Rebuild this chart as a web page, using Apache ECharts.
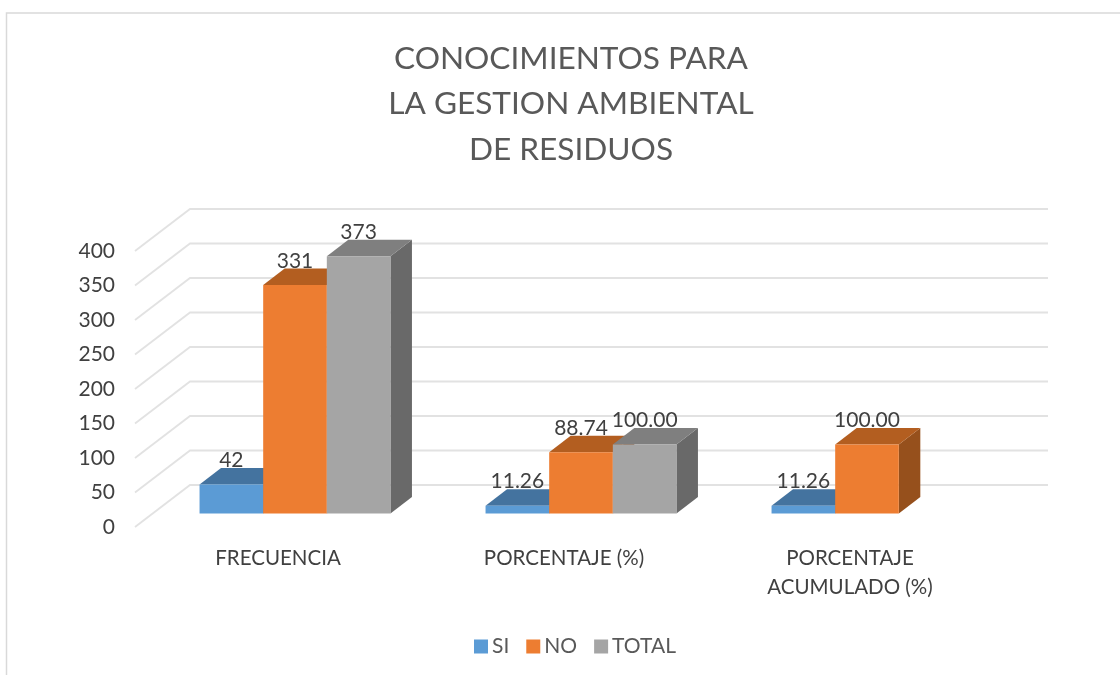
<!DOCTYPE html>
<html><head><meta charset="utf-8">
<style>html,body{margin:0;padding:0;background:#fff}#c{width:1120px;height:675px}</style>
<script src="https://cdn.jsdelivr.net/npm/echarts@6/dist/echarts.min.js"></script>
</head><body><div id="c"></div>
<script>
const categories = ['FRECUENCIA', 'PORCENTAJE (%)', 'PORCENTAJE\nACUMULADO (%)'];
const yTicks = [0, 50, 100, 150, 200, 250, 300, 350, 400];
const si = [42, 11.26, 11.26];
const no = [331, 88.74, 100.00];
const total = [373, 100.00, null];
const names = ['SI', 'NO', 'TOTAL'];
const titleText = 'CONOCIMIENTOS PARA\nLA GESTION AMBIENTAL\nDE RESIDUOS';

const FONT = 'Lato, "Open Sans", sans-serif';
const faces = [
  {front:'#5B9BD5', top:'#44739F', side:'#3E6C97'},
  {front:'#ED7D31', top:'#B35E20', side:'#96501C'},
  {front:'#A5A5A5', top:'#7F7F7F', side:'#696969'}
];
// oblique projection of the chart floor
const WALL = [55, -42], BAR_SHIFT = [17, -13.5], BAR_DEPTH = [21.5, -16.5], BAR_SLOT = 0.2225;

function wallItem(params, api) {
  const p = api.coord([0, api.value(1)]);
  const x0 = params.coordSys.x, x1 = x0 + params.coordSys.width;
  return {type:'polyline', silent:true, shape:{points:[
    [x0, p[1]], [x0 + WALL[0], p[1] + WALL[1]], [x1 + WALL[0], p[1] + WALL[1]]
  ]}, style:{stroke:'#E2E2E2', lineWidth:1.8, fill:null}};
}

function barRenderer(k) {
  return function (params, api) {
    const v = api.value(1);
    if (isNaN(v)) return null;
    const cat = api.value(0);
    const c = api.coord([cat, 0]), t = api.coord([cat, v]);
    const w = api.size([1, 0])[0] * BAR_SLOT;
    const cx = c[0] + BAR_SHIFT[0] + (k - 1) * w;
    const xl = cx - w / 2, xr = cx + w / 2;
    const yb = c[1] + BAR_SHIFT[1], yt = t[1] + BAR_SHIFT[1];
    const dx = BAR_DEPTH[0], dy = BAR_DEPTH[1];
    const f = faces[k];
    const label = cat === 0 ? String(v) : v.toFixed(2);
    return {type:'group', children:[
      {type:'polygon', shape:{points:[[xr,yb],[xr+dx,yb+dy],[xr+dx,yt+dy],[xr,yt]]}, style:{fill:f.side}},
      {type:'polygon', shape:{points:[[xl,yt],[xl+dx,yt+dy],[xr+dx,yt+dy],[xr,yt]]}, style:{fill:f.top}},
      {type:'rect', shape:{x:xl, y:yt, width:w, height:yb-yt}, style:{fill:f.front}},
      {type:'text', z2:100, style:{x:cx, y:yt-24, text:label, align:'center', verticalAlign:'middle',
        fill:'#404040', font:'21px '+FONT}}
    ]};
  };
}

function barSeries(k, values) {
  return {
    name:names[k], type:'custom', clip:false, z:3,
    itemStyle:{color:faces[k].front}, color:faces[k].front,
    encode:{x:0, y:1},
    data:values.map((v, i) => [i, v === null ? NaN : v]),
    renderItem:barRenderer(k)
  };
}

const chart = echarts.init(document.getElementById('c'), null, {renderer:'canvas'});
chart.setOption({
  animation:false,
  backgroundColor:'#fff',
  title:{text:titleText, left:566, top:31, textAlign:'center',
    textStyle:{fontFamily:FONT, fontSize:31.6, fontWeight:'normal', color:'#595959', lineHeight:45.5}},
  legend:{left:469, top:631, itemWidth:14, itemHeight:14, itemGap:17, icon:'rect',
    textStyle:{fontFamily:FONT, fontSize:21, color:'#595959', padding:[0,0,0,-1]}, data:names},
  grid:{left:135, top:251, width:858, height:276, containLabel:false},
  xAxis:{type:'category', data:categories, axisLine:{show:false}, axisTick:{show:false}, splitLine:{show:false},
    axisLabel:{interval:0, fontFamily:FONT, fontSize:20.5, color:'#404040', margin:17, lineHeight:29}},
  yAxis:{type:'value', min:0, max:400, interval:50, axisLine:{show:false}, axisTick:{show:false}, splitLine:{show:false},
    axisLabel:{fontFamily:FONT, fontSize:21, color:'#404040', margin:20, padding:[2,0,0,0]}},
  graphic:[{type:'polyline', silent:true, shape:{points:[[6.5,675],[6.5,13],[1120,13]]}, style:{stroke:'#D9D9D9', lineWidth:1.5, fill:null}}],
  series:[
    {name:'wall', type:'custom', z:1, silent:true, clip:false, encode:{x:0,y:1},
      data:yTicks.map(v => [0, v]), renderItem:wallItem},
    barSeries(0, si), barSeries(1, no), barSeries(2, total)
  ]
});
</script></body></html>
